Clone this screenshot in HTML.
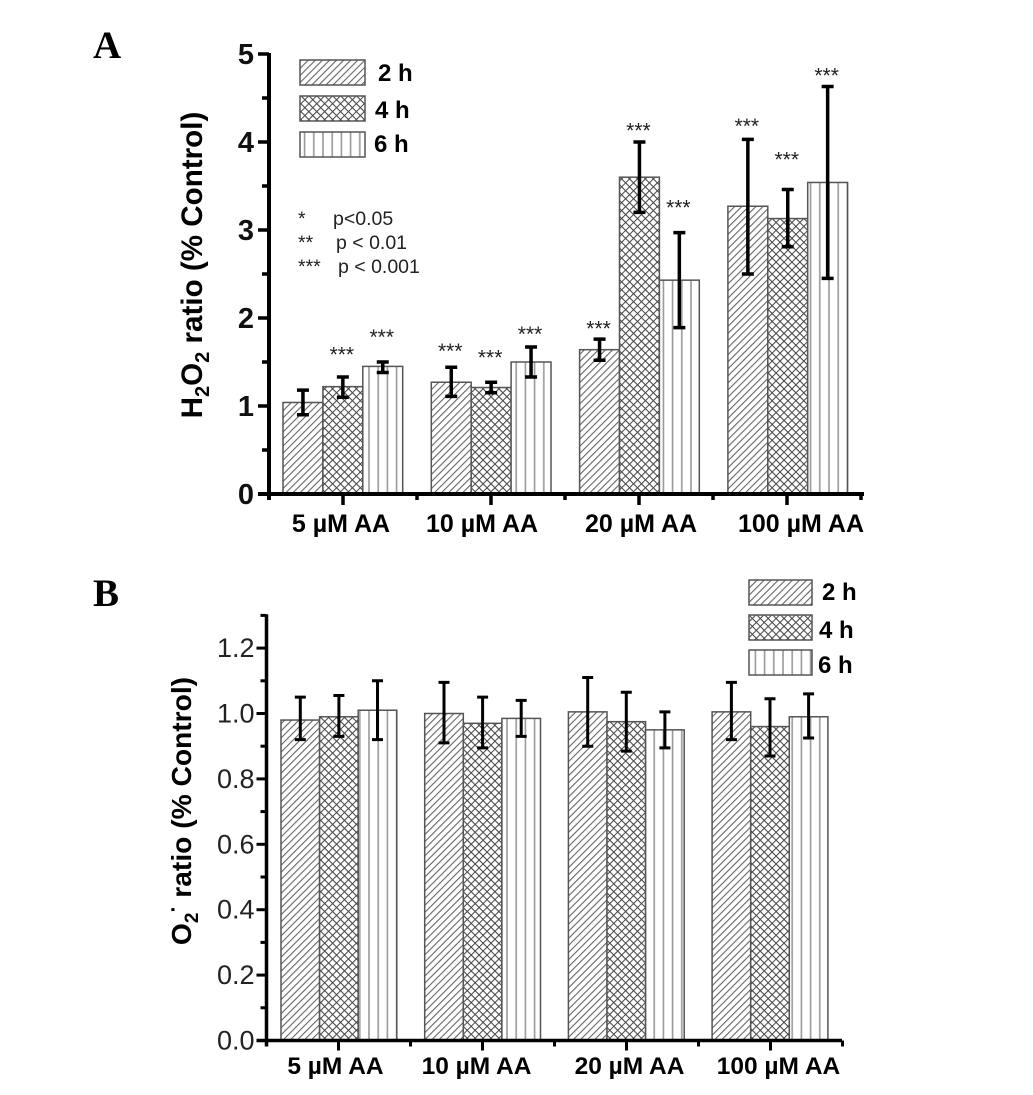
<!DOCTYPE html>
<html lang="en">
<head>
<meta charset="utf-8">
<title>H2O2 and O2- ratio charts</title>
<style>
html,body{margin:0;padding:0;background:#fff;}
svg{display:block;font-family:"Liberation Sans",Arial,sans-serif;}
</style>
</head>
<body>
<svg id="chart" xmlns="http://www.w3.org/2000/svg" width="1033" height="1095" viewBox="0 0 1033 1095">
  <defs>
    <pattern id="hatch-diag" patternUnits="userSpaceOnUse" width="5" height="5" patternTransform="rotate(45)">
      <rect width="5" height="5" fill="#fff"/><line x1="0" y1="0" x2="0" y2="5" stroke="#666" stroke-width="2.2"/>
    </pattern>
    <pattern id="hatch-cross" patternUnits="userSpaceOnUse" width="5.6" height="5.6" patternTransform="rotate(45)">
      <rect width="5.6" height="5.6" fill="#fff"/><path d="M0 0V5.6M0 0H5.6" stroke="#444" stroke-width="2" fill="none"/>
    </pattern>
    <pattern id="hatch-vert" patternUnits="userSpaceOnUse" width="9.2" height="9">
      <rect width="9.2" height="9" fill="#fff"/><line x1="1" y1="0" x2="1" y2="9" stroke="#999" stroke-width="1.6"/>
    </pattern>
  </defs>

  <text x="93" y="58" font-family="Liberation Serif, serif" font-weight="bold" font-size="39">A</text>
  <text x="93" y="606" font-family="Liberation Serif, serif" font-weight="bold" font-size="39">B</text>

  <g id="panel-a"></g>
  <g id="panel-b"></g>

  <text transform="translate(202,265) rotate(-90)" text-anchor="middle" font-weight="bold" font-size="29.6">H<tspan font-size="20" dy="7">2</tspan><tspan dy="-7">O</tspan><tspan font-size="20" dy="7">2</tspan><tspan dy="-7"> ratio (% Control)</tspan></text>
  <text transform="translate(191,811) rotate(-90)" text-anchor="middle" font-weight="bold" font-size="28.2">O<tspan font-size="19" dy="7">2</tspan><tspan font-size="21" dy="-18">·</tspan><tspan dy="11"> ratio (% Control)</tspan></text>

  <g font-size="19.5" fill="#222">
    <text x="298" y="225">*</text>
    <text x="333" y="225">p&lt;0.05</text>
    <text x="298" y="249">**</text>
    <text x="336" y="249">p &lt; 0.01</text>
    <text x="298" y="273">***</text>
    <text x="338" y="273">p &lt; 0.001</text>
  </g>
</svg>
<script>
var categoriesA = ['5 µM AA', '10 µM AA', '20 µM AA', '100 µM AA'];
var seriesNames = ['2 h', '4 h', '6 h'];
var valuesA2h = [1.04, 1.27, 1.64, 3.27];
var valuesA4h = [1.22, 1.21, 3.60, 3.13];
var valuesA6h = [1.45, 1.50, 2.43, 3.54];
var lowA2h = [0.90, 1.11, 1.52, 2.50];
var lowA4h = [1.10, 1.15, 3.20, 2.81];
var lowA6h = [1.38, 1.33, 1.89, 2.45];
var highA2h = [1.18, 1.44, 1.76, 4.03];
var highA4h = [1.33, 1.27, 4.00, 3.46];
var highA6h = [1.50, 1.67, 2.97, 4.63];
var starsA2h = ['', '***', '***', '***'];
var starsA4h = ['***', '***', '***', '***'];
var starsA6h = ['***', '***', '***', '***'];
var starLevelA2h = [0, 1.68, 1.94, 4.24];
var starLevelA4h = [1.64, 1.61, 4.19, 3.86];
var starLevelA6h = [1.84, 1.875, 3.31, 4.81];
var yTicksA = ['0', '1', '2', '3', '4', '5'];

var categoriesB = ['5 µM AA', '10 µM AA', '20 µM AA', '100 µM AA'];
var valuesB2h = [0.98, 1.00, 1.005, 1.005];
var valuesB4h = [0.99, 0.97, 0.975, 0.96];
var valuesB6h = [1.01, 0.985, 0.95, 0.99];
var lowB2h = [0.92, 0.91, 0.90, 0.92];
var lowB4h = [0.93, 0.895, 0.885, 0.87];
var lowB6h = [0.92, 0.93, 0.895, 0.925];
var highB2h = [1.05, 1.095, 1.11, 1.095];
var highB4h = [1.055, 1.05, 1.065, 1.045];
var highB6h = [1.10, 1.04, 1.005, 1.06];
var yTicksB = ['0.0', '0.2', '0.4', '0.6', '0.8', '1.0', '1.2'];

var NS = 'http://www.w3.org/2000/svg';
var fills = ['url(#hatch-diag)', 'url(#hatch-cross)', 'url(#hatch-vert)'];

function mk(parent, tag, attrs, txt) {
  var el = document.createElementNS(NS, tag);
  for (var k in attrs) el.setAttribute(k, attrs[k]);
  if (txt !== undefined) el.textContent = txt;
  parent.appendChild(el);
  return el;
}

function drawPanel(cfg) {
  var g = cfg.root;
  var yScale = function (v) { return cfg.y0 - v * cfg.yUnit; };
  var groupX = function (i) { return cfg.groupStart + i * cfg.groupStep; };
  var barX = function (i, s) { return groupX(i) + s * cfg.barW; };

  cfg.values.forEach(function (series, s) {
    series.forEach(function (v, i) {
      var bar = mk(g, 'rect', { x: barX(i, s), y: yScale(v), width: cfg.barW, height: cfg.y0 - yScale(v), fill: fills[s], stroke: '#555', 'stroke-width': 1.5 });
      
      
    });
  });

  cfg.values.forEach(function (series, s) {
    series.forEach(function (v, i) {
      var cx = barX(i, s) + cfg.barW / 2;
      var eb = mk(g, 'path', {
        d: 'M' + (cx - cfg.cap) + ' ' + yScale(cfg.high[s][i]) + 'H' + (cx + cfg.cap) +
           'M' + cx + ' ' + yScale(cfg.high[s][i]) + 'V' + yScale(cfg.low[s][i]) +
           'M' + (cx - cfg.cap) + ' ' + yScale(cfg.low[s][i]) + 'H' + (cx + cfg.cap),
        stroke: '#000', 'stroke-width': cfg.errW, fill: 'none'
      });
      
      
      if (cfg.stars && cfg.stars[s][i]) {
        var st = mk(g, 'text', { x: cx - 1, y: yScale(cfg.starLevels[s][i]) + 12, 'text-anchor': 'middle', 'font-size': 21, fill: '#222' }, cfg.stars[s][i]);
        
        
      }
    });
  });

  var yTop = yScale(cfg.yMax);
  var yAxis = mk(g, 'line', { x1: cfg.x0, x2: cfg.x0, y1: yTop - 1, y2: cfg.y0 + 6, stroke: '#000', 'stroke-width': cfg.axisW });
  
  
  var xAxis = mk(g, 'line', { x1: cfg.x0 - cfg.majorY, x2: cfg.xEnd, y1: cfg.y0, y2: cfg.y0, stroke: '#000', 'stroke-width': cfg.axisW });
  
  

  cfg.yTicks.forEach(function (label, i) {
    var v = parseFloat(label);
    var y = yScale(v);
    var t = mk(g, 'line', { x1: cfg.x0 - cfg.majorY, x2: cfg.x0, y1: y, y2: y, stroke: '#000', 'stroke-width': cfg.tickW });
    
    
    var tl = mk(g, 'text', { x: cfg.x0 - cfg.yLabelGap, y: y + cfg.yLabelDy, 'text-anchor': 'end', 'font-size': cfg.yFont, 'font-weight': cfg.yWeight, fill: cfg.yColor }, label);
    
    
    if (i < cfg.yTicks.length - 1 || cfg.minorAfterLast) {
      var my = yScale(v + cfg.yStep / 2);
      var m = mk(g, 'line', { x1: cfg.x0 - cfg.minorY, x2: cfg.x0, y1: my, y2: my, stroke: '#000', 'stroke-width': cfg.tickW });
      
      
    }
  });

  for (var k = 0; k <= cfg.cats.length * 2; k++) {
    var tx = cfg.x0 + k * cfg.xStep;
    var isMajor = k % 2 === 1;
    var xt = mk(g, 'line', { x1: tx, x2: tx, y1: cfg.y0, y2: cfg.y0 + (isMajor ? cfg.majorX : cfg.minorX), stroke: '#000', 'stroke-width': cfg.tickW });
    
    
    if (isMajor) {
      var idx = (k - 1) / 2;
      var cl = mk(g, 'text', { x: tx + cfg.catNudge[idx], y: cfg.catY, 'text-anchor': 'middle', 'font-size': cfg.catFont, 'font-weight': 'bold' }, cfg.cats[idx]);
      
      
    }
  }

  seriesNames.forEach(function (name, s) {
    var sy = cfg.legendY + s * cfg.legendStep;
    var sw = mk(g, 'rect', { x: cfg.legendX, y: sy, width: cfg.legendW, height: 25, fill: fills[s], stroke: '#555', 'stroke-width': 1.5 });
    
    
    var lt = mk(g, 'text', { x: cfg.legendTextX[s], y: sy + cfg.legendTextDy[s], 'font-size': 24, 'font-weight': 'bold' }, name);
    
    
  });
}

drawPanel({
  root: document.getElementById('panel-a'),
  values: [valuesA2h, valuesA4h, valuesA6h],
  low: [lowA2h, lowA4h, lowA6h],
  high: [highA2h, highA4h, highA6h],
  stars: [starsA2h, starsA4h, starsA6h],
  starLevels: [starLevelA2h, starLevelA4h, starLevelA6h],
  cats: categoriesA, yTicks: yTicksA,
  x0: 269, y0: 494, yUnit: 88, yMax: 5, yStep: 1, minorAfterLast: false,
  groupStart: 283, groupStep: 148.3, barW: 39.9, cap: 6, errW: 3.5,
  xStep: 74, xEnd: 864, axisW: 4, tickW: 3.5,
  majorY: 11, minorY: 7, majorX: 11, minorX: 6,
  yLabelGap: 15, yLabelDy: 10, yFont: 29, yWeight: 'bold', yColor: '#111',
  catNudge: [-2, -9, 2, 14], catY: 532, catFont: 25,
  legendX: 300, legendY: 60, legendStep: 36, legendW: 65,
  legendTextX: [378, 375, 374], legendTextDy: [21, 22, 20]
});

drawPanel({
  root: document.getElementById('panel-b'),
  values: [valuesB2h, valuesB4h, valuesB6h],
  low: [lowB2h, lowB4h, lowB6h],
  high: [highB2h, highB4h, highB6h],
  cats: categoriesB, yTicks: yTicksB,
  x0: 266.5, y0: 1040.5, yUnit: 327, yMax: 1.3, yStep: 0.2, minorAfterLast: true,
  groupStart: 281, groupStep: 143.7, barW: 38.6, cap: 5.5, errW: 3,
  xStep: 72, xEnd: 842, axisW: 3.5, tickW: 3,
  majorY: 10, minorY: 6, majorX: 10, minorX: 6,
  yLabelGap: 12, yLabelDy: 9, yFont: 27, yWeight: 'normal', yColor: '#222',
  catNudge: [-3, -6, 3, 8], catY: 1074, catFont: 24.5,
  legendX: 749, legendY: 580, legendStep: 35, legendW: 63,
  legendTextX: [822, 819, 818], legendTextDy: [20, 23, 23]
});
</script>
</body>
</html>
